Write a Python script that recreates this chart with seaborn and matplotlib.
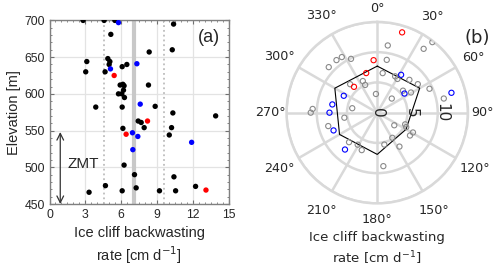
import numpy as np
import pandas as pd
import matplotlib
matplotlib.use("Agg")
import matplotlib.pyplot as plt
from matplotlib.ticker import MultipleLocator
import seaborn as sns

# Panel (a): backwasting rate [cm/d] vs elevation [m]
black_rate = [2.81, 4.57, 5.47, 10.38, 5.13, 8.34, 10.27, 3.12, 4.88, 5.05, 4.99,
              3.03, 4.65, 6.08, 6.47, 5.91, 6.14, 6.24, 6.19, 6.05, 5.77, 6.27,
              6.08, 8.28, 3.87, 8.84, 10.32, 13.9, 7.42, 7.67, 7.92, 6.14, 10.21,
              10.02, 6.24, 7.11, 10.41, 4.68, 7.25, 12.22, 3.31, 6.08, 9.2, 10.55]
black_elev = [700, 700, 700, 695, 681, 657, 660, 644, 648, 644, 640,
              630, 630, 637, 640, 612, 613, 611, 605, 600, 600, 595,
              582, 612, 582, 583, 574, 570, 563, 561, 554, 553, 554,
              544, 503, 490, 487, 475, 472, 474, 466, 468, 468, 468]
red_rate = [5.41, 8.2, 6.41, 13.09]
red_elev = [625, 563, 545, 469]
blue_rate = [5.77, 7.31, 5.1, 7.59, 6.94, 7.39, 11.89, 6.97]
blue_elev = [697, 641, 634, 586, 547, 542, 534, 524]

mean_rate = 7.05
band_rates = [4.6, 9.55]

# Panel (b): aspect [deg] vs backwasting rate [cm/d]
gray_aspect = [327.5, 322.2, 334, 313.2, 316.4, 335.5, 336.4, 280.1, 273.3, 270,
               38, 36, 8.9, 10.2, 7.8, 26.2, 30.9, 44.4, 54.9, 65.4, 59.1, 49.5,
               356, 45.8, 78, 261.3, 254.7, 223.7, 211.4, 202.5, 126.5, 112.7,
               116.5, 119, 124.9, 149, 167.5, 146.8, 173.5]
gray_r = [10.9, 11.0, 9.9, 11.0, 6.5, 5.75, 5.0, 4.2, 10.7, 11.0,
          14.8, 13.05, 11.25, 8.87, 6.6, 6.7, 6.5, 7.6, 8.2, 9.5, 6.5, 5.6,
          3.1, 3.35, 11.25, 5.5, 8.4, 6.75, 6.2, 6.7, 3.5, 5.0,
          5.35, 6.75, 6.6, 4.85, 5.4, 6.7, 8.9]
red_aspect = [17.2, 356, 344.4, 318]
red_r = [13.9, 8.7, 6.8, 5.75]
blue_aspect = [75, 32.2, 54.9, 296.8, 280.4, 270, 247.9, 221.2]
blue_r = [12.7, 7.4, 5.5, 6.2, 7.55, 7.9, 7.8, 8.1]

sector_aspect = [0, 60, 120, 180, 240, 300]
sector_rate = [7.7, 8.1, 5.5, 6.9, 7.2, 8.1]

theta_ticks = list(range(0, 360, 30))
r_ticks = [5, 10, 15]
r_labels = [0, 5, 10]

sns.set_style("ticks")
plt.rcParams["font.family"] = ["DejaVu Sans"]
ARIAL = ["Liberation Sans"]
XLAB1 = "Ice cliff backwasting"
XLAB2 = "rate [cm d$^{-1}$]"
COLS_B = {"g": "#8a8a8a", "r": "#ff0000", "b": "#0000ff"}

df_a = pd.DataFrame({
    "rate": black_rate + red_rate + blue_rate,
    "elev": black_elev + red_elev + blue_elev,
    "grp": ["k"] * len(black_rate) + ["r"] * len(red_rate) + ["b"] * len(blue_rate),
})
df_b = pd.DataFrame({
    "theta": np.deg2rad(gray_aspect + red_aspect + blue_aspect),
    "r": gray_r + red_r + blue_r,
    "grp": ["g"] * len(gray_r) + ["r"] * len(red_r) + ["b"] * len(blue_r),
})

fig = plt.figure(figsize=(5, 2.7), dpi=100)
ax1 = fig.add_axes([0.099, 0.2444, 0.3586, 0.680])
ax2 = fig.add_axes([0.573, 0.2467, 0.363, 0.672], projection="polar")

# ---- panel (a)
ax1.grid(True, color="#e3e3e3", lw=0.9)
ax1.set_axisbelow(True)
for xr in band_rates:
    ax1.axvline(xr, color="#bdbdbd", ls=":", lw=1.3, zorder=1)
ax1.axvline(mean_rate, color="#c8c8c8", lw=3, zorder=1)
sns.scatterplot(data=df_a, x="rate", y="elev", hue="grp",
                palette={"k": "black", "r": "#ff0000", "b": "#0000ff"},
                s=15, linewidth=0, legend=False, ax=ax1, zorder=3)
ax1.set_xlim(0, 15)
ax1.set_ylim(450, 700)
ax1.xaxis.set_major_locator(MultipleLocator(3))
ax1.xaxis.set_minor_locator(MultipleLocator(0.5))
ax1.yaxis.set_major_locator(MultipleLocator(50))
ax1.yaxis.set_minor_locator(MultipleLocator(10))
ax1.tick_params(which="both", direction="in", top=True, right=True,
                color="#707070", labelsize=8.8, labelcolor="#262626")
ax1.tick_params(which="major", length=3)
ax1.tick_params(which="minor", length=1.5)
for lab in ax1.get_xticklabels() + ax1.get_yticklabels():
    lab.set_fontfamily(ARIAL)
for sp in ax1.spines.values():
    sp.set_color("#808080")
    sp.set_linewidth(1.0)
ax1.set_xlabel("")
ax1.set_ylabel("Elevation [m]", fontsize=10.5, family=ARIAL, color="#262626", labelpad=2)
fig.text(139 / 500, 1 - 233 / 270, XLAB1, fontsize=10.5, family=ARIAL,
         color="#262626", ha="center", va="center")
fig.text(139 / 500, 1 - 255 / 270, XLAB2, fontsize=10.5, family=ARIAL,
         color="#262626", ha="center", va="center")
ax1.annotate("", xy=(0.9, 450), xytext=(0.9, 548),
             arrowprops=dict(arrowstyle="<->", color="#333333", lw=0.9,
                             mutation_scale=12, shrinkA=0, shrinkB=0))
ax1.text(1.5, 505, "ZMT", fontsize=11, family=ARIAL, va="center", ha="left")
ax1.text(0.95, 0.955, "(a)", transform=ax1.transAxes, fontsize=13,
         family=ARIAL, ha="right", va="top")

# ---- panel (b)
ax2.set_theta_zero_location("N")
ax2.set_theta_direction(-1)
ax2.set_rlim(0, 15)
ax2.set_rticks(r_ticks)
ax2.set_yticklabels([])
ax2.set_thetagrids(theta_ticks, labels=[""] * len(theta_ticks))
ax2.grid(True, color="#d9d9d9", lw=1.8)
ax2.spines["polar"].set_color("#d9d9d9")
ax2.spines["polar"].set_linewidth(1.8)
sns.lineplot(x=np.deg2rad(sector_aspect + sector_aspect[:1]),
             y=sector_rate + sector_rate[:1], sort=False, estimator=None,
             color="black", lw=0.8, ax=ax2)
sns.scatterplot(data=df_b, x="theta", y="r", hue="grp", palette=COLS_B,
                marker="o", s=14, linewidth=0.8, legend=False, ax=ax2, zorder=3)
for coll in ax2.collections:
    coll.set_facecolor("none")
    coll.set_edgecolor([COLS_B[g] for g in df_b["grp"]])
ax2.set_xlabel("")
ax2.set_ylabel("")
# angle labels centred just outside the outer ring
for d in theta_ticks:
    lab = f"{d}°"
    rr = 16.9 + 0.25 * len(str(d)) + 1.1 * abs(np.sin(np.deg2rad(2 * d)))
    ax2.text(np.deg2rad(d), rr, lab, fontsize=9.2, ha="center", va="center",
             clip_on=False)
for rv in r_labels:
    ax2.text(np.deg2rad(90), rv + (0.7 if rv else 0), str(rv), rotation=-90,
             fontsize=11, ha="center", va="center", zorder=4)
fig.text(377 / 500, 1 - 238 / 270, XLAB1, fontsize=9.5, ha="center", va="center")
fig.text(377 / 500, 1 - 258 / 270, XLAB2, fontsize=9.5, ha="center", va="center")
ax2.text(1.05, 0.91, "(b)", transform=ax2.transAxes, fontsize=13, ha="center", va="center")

fig.savefig("out.png", dpi=100)
